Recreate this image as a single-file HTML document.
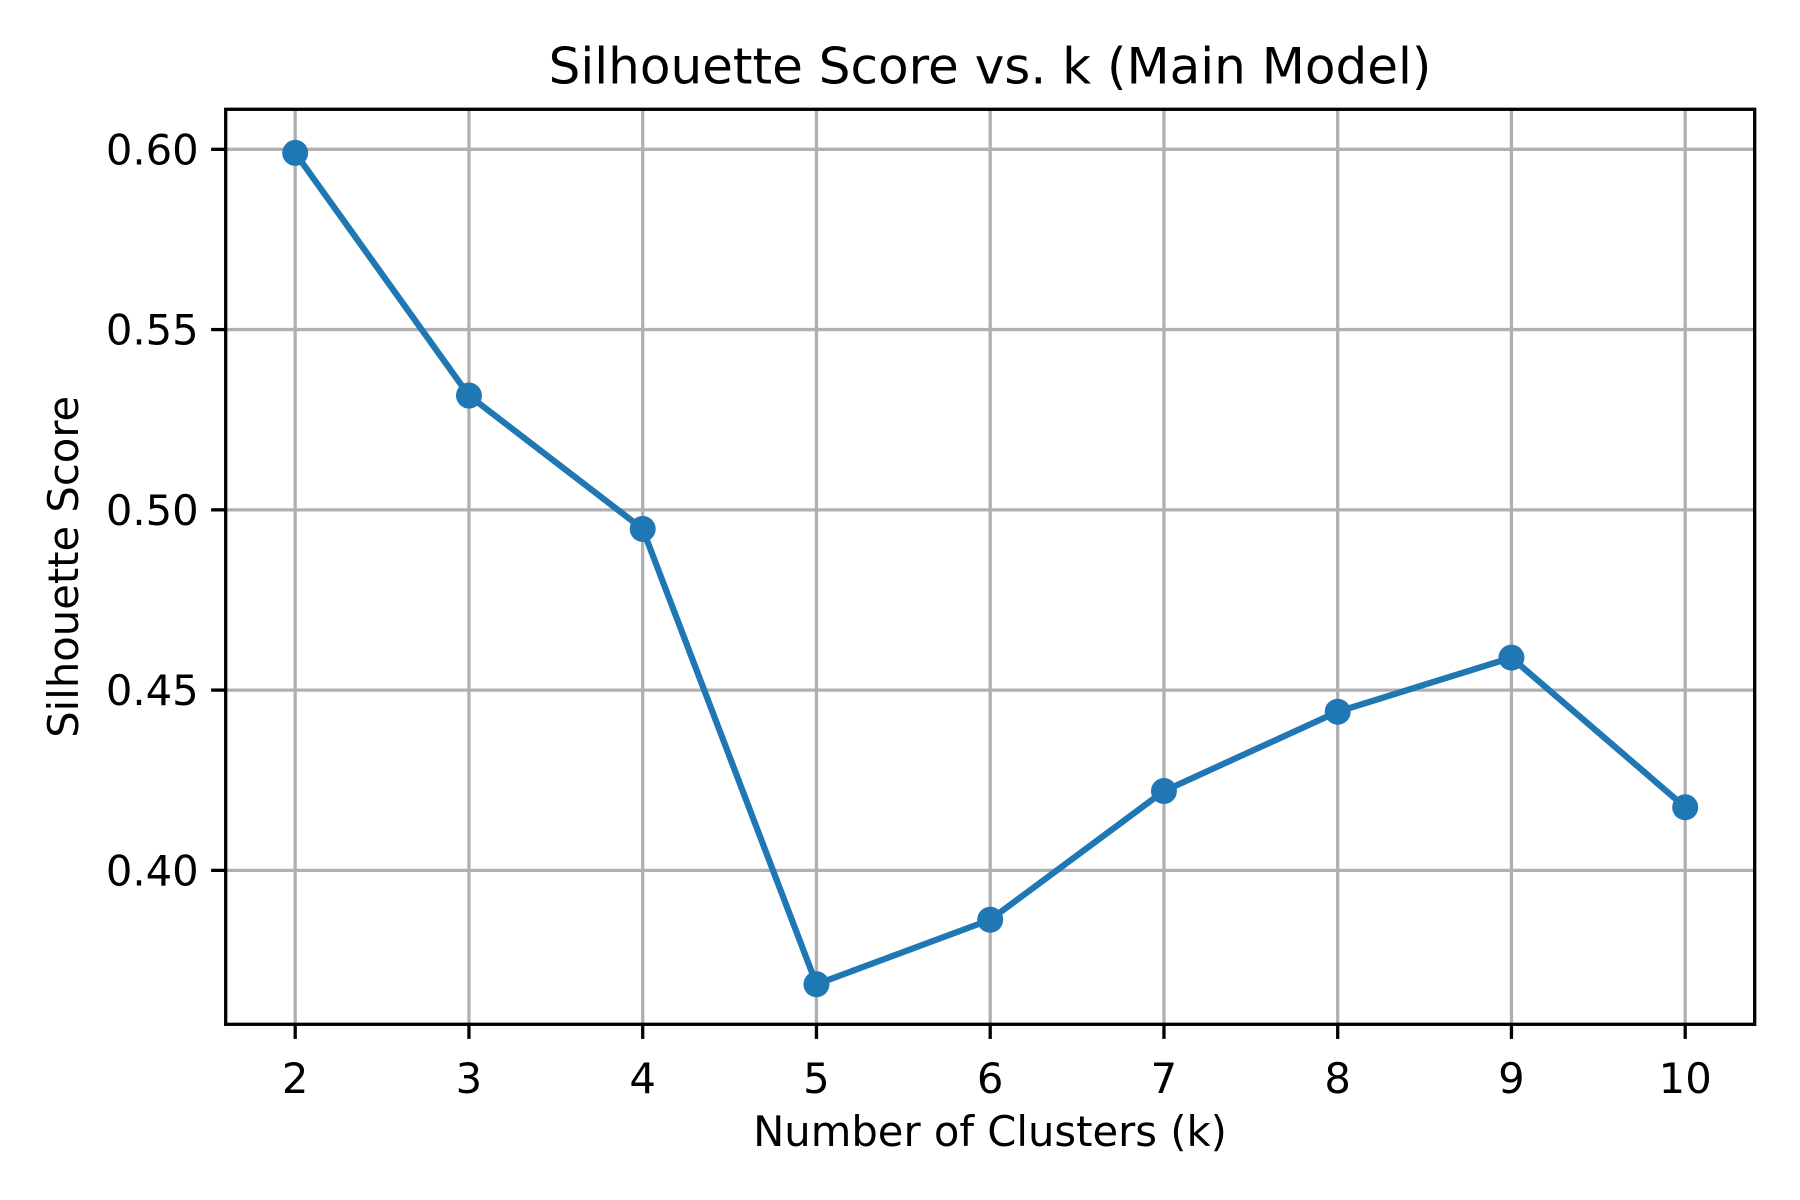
<!DOCTYPE html>
<html><head><meta charset="utf-8"><style>
html,body{margin:0;padding:0;background:#fff;}
svg{display:block;font-family:"DejaVu Sans","Liberation Sans",sans-serif;}
</style></head><body>
<svg id="chart" width="1800" height="1200" viewBox="0 0 1800 1200" xmlns="http://www.w3.org/2000/svg">
<rect x="0" y="0" width="1800" height="1200" fill="#fff"/>
<g id="grid"></g>
<g id="series"></g>
<rect x="225.7" y="109.3" width="1529" height="915" fill="none" stroke="#000" stroke-width="3.3"/>
<g id="ticks"></g>
<text x="990" y="83.3" text-anchor="middle" font-size="50">Silhouette Score vs. k (Main Model)</text>
<text x="990" y="1146" text-anchor="middle" font-size="41.7">Number of Clusters (k)</text>
<text transform="translate(78,566.8) rotate(-90)" text-anchor="middle" font-size="41.7">Silhouette Score</text>
</svg>
<script>
const kValues = [2,3,4,5,6,7,8,9,10];
const scores = [0.599,0.5317,0.4947,0.3684,0.3863,0.4220,0.4440,0.4590,0.4175];
const yTicks = [0.40,0.45,0.50,0.55,0.60];
const yTickLabels = ["0.40","0.45","0.50","0.55","0.60"];
const xTicks = [2,3,4,5,6,7,8,9,10];
const xTickLabels = ["2","3","4","5","6","7","8","9","10"];

const NS = "http://www.w3.org/2000/svg";
const X0 = 225.7, X1 = 1754.7, Y0 = 109.3, Y1 = 1024.3;
const xMin = 1.6, xMax = 10.4, yMin = 0.3573, yMax = 0.6111;
function sx(v){ return X0 + (v - xMin) / (xMax - xMin) * (X1 - X0); }
function sy(v){ return Y1 - (v - yMin) / (yMax - yMin) * (Y1 - Y0); }
function mk(tag, attrs, parent){ const e = document.createElementNS(NS, tag); for (const k in attrs) e.setAttribute(k, attrs[k]); parent.appendChild(e); return e; }

const grid = document.getElementById('grid');
const ticks = document.getElementById('ticks');
const series = document.getElementById('series');

xTicks.forEach((v, i) => {
  const x = sx(v);
  const g = mk('line', {x1:x, x2:x, y1:Y0, y2:Y1, stroke:'#b0b0b0', 'stroke-width':3.3}, grid);
  
  
  const t = mk('line', {x1:x, x2:x, y1:Y1, y2:Y1+14.6, stroke:'#000', 'stroke-width':3.3}, ticks);
  
  
  const l = mk('text', {x:x, y:1093, 'text-anchor':'middle', 'font-size':41.7}, ticks);
  l.textContent = xTickLabels[i];
  
  
});
yTicks.forEach((v, i) => {
  const y = sy(v);
  const g = mk('line', {x1:X0, x2:X1, y1:y, y2:y, stroke:'#b0b0b0', 'stroke-width':3.3}, grid);
  
  
  const t = mk('line', {x1:X0-14.6, x2:X0, y1:y, y2:y, stroke:'#000', 'stroke-width':3.3}, ticks);
  
  
  const l = mk('text', {x:X0-27, y:y+15, 'text-anchor':'end', 'font-size':41.7}, ticks);
  l.textContent = yTickLabels[i];
  
  
});
const pts = kValues.map((k, i) => sx(k) + ',' + sy(scores[i])).join(' ');
const line = mk('polyline', {points:pts, fill:'none', stroke:'#1f77b4', 'stroke-width':6.25, 'stroke-linejoin':'round'}, series);


kValues.forEach((k, i) => {
  const c = mk('circle', {cx:sx(k), cy:sy(scores[i]), r:13, fill:'#1f77b4'}, series);
  
  
});
</script>
</body></html>
